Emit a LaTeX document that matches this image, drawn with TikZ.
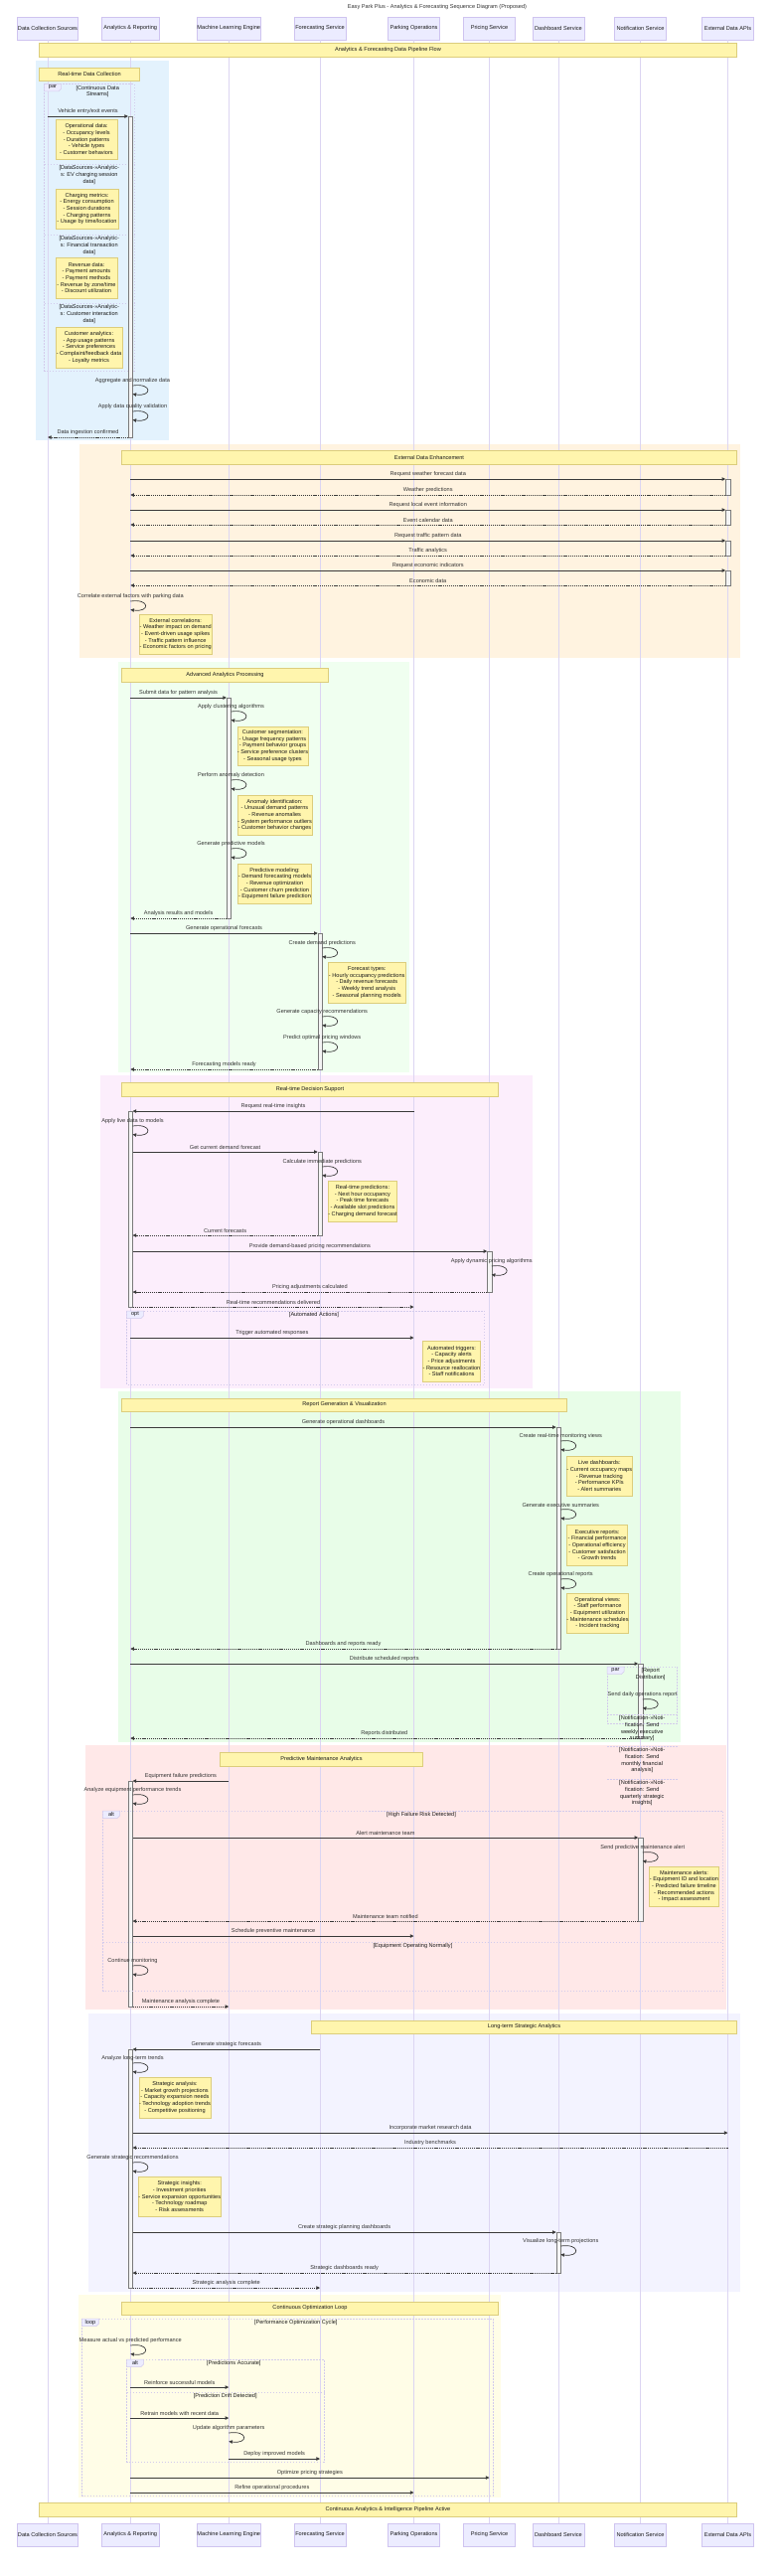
\documentclass[tikz,border=0pt]{standalone}
\usepackage{fontspec}
\setmainfont{Liberation Sans}
\usetikzlibrary{arrows.meta,calc}

\definecolor{actorfill}{HTML}{ECECFF}
\definecolor{actorline}{HTML}{CFC4F0}
\definecolor{lifecol}{HTML}{DCD5F2}
\definecolor{msgline}{HTML}{3A3A3A}
\definecolor{msgtext}{HTML}{333333}
\definecolor{notefill}{HTML}{FFF5AD}
\definecolor{noteline}{HTML}{DCCD7C}
\definecolor{notetext}{HTML}{1A1A1A}
\definecolor{actfill}{HTML}{F4F4F4}
\definecolor{actline}{HTML}{7A7A7A}
\definecolor{frameline}{HTML}{D3CBEC}
\definecolor{bgblue}{HTML}{E3F2FD}
\definecolor{bgpeach}{HTML}{FFF3E0}
\definecolor{bggreen}{HTML}{F0FFF0}
\definecolor{bgpink}{HTML}{FCEEFC}
\definecolor{bgmint}{HTML}{E8FDE8}
\definecolor{bgred}{HTML}{FFE8E8}
\definecolor{bglav}{HTML}{F3F3FF}
\definecolor{bgcream}{HTML}{FFFDE7}

\newcommand{\sqfont}{\fontsize{5.6}{6.7}\selectfont}

% message: [style]{from}{dx}{to}{dx}{y}{label}
\newcommand{\seqmsg}[7][msg]{%
  \draw[#1] ($(#2 |- 0,#6)+(#3,0)$) -- node[msglabel]{#7} ($(#4 |- 0,#6)+(#5,0)$);}
% self message: {lifeline}{dx}{y}{label}
\newcommand{\selfmsg}[4]{%
  \draw[msg] ($(#1 |- 0,#3)+(#2,0)$) node[msglabel]{#4}
    .. controls +(20,-3) and +(20,3) .. +(0,8.5);}
% activation: {lifeline}{y0}{y1}
\newcommand{\seqact}[3]{%
  \draw[actbox] ($(#1 |- 0,#2)+(-2.25,0)$) rectangle ($(#1 |- 0,#3)+(2.25,0)$);}
% note: {name}{x0}{y0}{x1}{y1}{text}
\newcommand{\seqnote}[6]{%
  \node[note, minimum width={(#4)-(#2)}, minimum height={(#5)-(#3)}] (#1)
    at ({((#2)+(#4))/2},{((#3)+(#5))/2}) {#6};}
% frame: {x0}{y0}{x1}{y1}{tag}{condition}
\newcommand{\seqframe}[6]{%
  \draw[frame] (#1,#2) rectangle (#3,#4);
  \draw[tagbox] (#1,#2) -- ++(17,0) -- ++(0,5) -- ++(-2.5,2.5) -- (#1,{#2+7.5}) -- cycle;
  \node[cond, anchor=center] at ({#1+8.5},{#2+3.7}) {#5};
  \node[cond] at ({(#1+17+#3)/2},{#2+1.5}) {#6};}
% separator: {x0}{x1}{y}{condition}
\newcommand{\seqsep}[4]{%
  \draw[frame] (#1,#3) -- (#2,#3);
  \node[cond] at ({(#1+#2)/2},{#3+1.5}) {#4};}

\begin{document}
\begin{tikzpicture}[
        x=1pt, y=-1pt,
        every node/.append style={font=\sqfont},
        actor/.style={draw=actorline, fill=actorfill, line width=0.5pt, minimum height=23pt, inner sep=0pt, text=notetext},
        lifeline/.style={draw=lifecol, line width=0.6pt},
        msg/.style={draw=msgline, line width=0.7pt, -{Triangle[length=3.6pt,width=3.4pt]}},
        reply/.style={msg, dash pattern=on 1.2pt off 0.9pt},
        msglabel/.style={above=2.3pt, inner sep=0pt, text=msgtext},
        actbox/.style={draw=actline, fill=actfill, line width=0.5pt},
        note/.style={draw=noteline, fill=notefill, line width=0.5pt, inner sep=0pt, align=center, text=notetext},
        frame/.style={draw=frameline, line width=0.6pt, dash pattern=on 1.5pt off 1.5pt},
        tagbox/.style={draw=frameline, fill=actorfill, line width=0.5pt},
        cond/.style={inner sep=0pt, align=center, anchor=north, text=notetext}
    ]
    \path[use as bounding box, fill=white] (0,0) rectangle (784,2592);

    % section backgrounds
    \fill[bgblue]  (36,61)    rectangle (170,443);
    \fill[bgpeach] (80,447)   rectangle (745,662);
    \fill[bggreen] (119,666)  rectangle (411.5,1079);
    \fill[bgpink]  (101,1082) rectangle (536,1397);
    \fill[bgmint]  (119,1400) rectangle (685,1753);
    \fill[bgred]   (86,1756)  rectangle (731,2022);
    \fill[bglav]   (89,2026)  rectangle (745,2306);
    \fill[bgcream] (79,2309)  rectangle (504,2513);

    % participants
    \node[text=msgtext] (title) at (440,7) {Easy Park Plus - Analytics \& Forecasting Sequence Diagram (Proposed)};
    \foreach \id/\cx/\bw/\lbl in {src/48/61/{Data Collection Sources},
            ana/131.25/57.5/{Analytics \& Reporting}, ml/230.25/64.5/{Machine Learning Engine},
            fc/322/52/{Forecasting Service}, park/416.5/52/{Parking Operations},
            pri/492.5/52/{Pricing Service}, dash/562/52/{Dashboard Service},
            notif/644.5/52/{Notification Service}, ext/732.5/52/{External Data APIs}} {
        \node[actor, minimum width=\bw] (\id) at (\cx,28.5) {\lbl};
        \node[actor, minimum width=\bw] (\id-end) at (\cx,2550.5) {\lbl};
    }
    \foreach \id in {src,ana,ml,fc,park,pri,dash,notif,ext}
        \draw[lifeline] (\id) -- (\id-end);

    \seqnote{n-flow}{39.5}{43}{741.5}{57}{Analytics \& Forecasting Data Pipeline Flow}

    % real-time data collection
    \seqnote{n-rtdc}{39.5}{68}{140.5}{81}{Real-time Data Collection}
    \seqframe{44.5}{84.3}{135}{373}{par}{[Continuous Data\\Streams]}
    \seqsep{44.5}{135}{165}{[DataSources->>Analytic-\\s: EV charging session\\data]}
    \seqsep{44.5}{135}{236}{[DataSources->>Analytic-\\s: Financial transaction\\data]}
    \seqsep{44.5}{135}{305}{[DataSources->>Analytic-\\s: Customer interaction\\data]}
    \seqact{ana}{117}{440}
    \seqmsg{src}{0}{ana}{-2.25}{117}{Vehicle entry/exit events}
    \seqnote{n-ops}{56}{120}{118}{160}{Operational data:\\- Occupancy levels\\- Duration patterns\\- Vehicle types\\- Customer behaviors}
    \seqnote{n-chg}{56}{190}{119}{230}{Charging metrics:\\- Energy consumption\\- Session durations\\- Charging patterns\\- Usage by time/location}
    \seqnote{n-rev}{56}{259}{118}{300}{Revenue data:\\- Payment amounts\\- Payment methods\\- Revenue by zone/time\\- Discount utilization}
    \seqnote{n-cust}{56}{329}{123}{370}{Customer analytics:\\- App usage patterns\\- Service preferences\\- Complaint/feedback data\\- Loyalty metrics}
    \selfmsg{ana}{2.25}{388}{Aggregate and normalize data}
    \selfmsg{ana}{2.25}{414}{Apply data quality validation}
    \seqmsg[reply]{ana}{-2.25}{src}{0}{440}{Data ingestion confirmed}

    % external data enhancement
    \seqnote{n-ext}{122.5}{453}{741.5}{467}{External Data Enhancement}
    \seqact{ext}{482}{498}
    \seqact{ext}{513}{528}
    \seqact{ext}{544}{559}
    \seqact{ext}{574}{589}
    \seqmsg{ana}{0}{ext}{-2.25}{482}{Request weather forecast data}
    \seqmsg[reply]{ext}{-2.25}{ana}{0}{498}{Weather predictions}
    \seqmsg{ana}{0}{ext}{-2.25}{513}{Request local event information}
    \seqmsg[reply]{ext}{-2.25}{ana}{0}{528}{Event calendar data}
    \seqmsg{ana}{0}{ext}{-2.25}{544}{Request traffic pattern data}
    \seqmsg[reply]{ext}{-2.25}{ana}{0}{559}{Traffic analytics}
    \seqmsg{ana}{0}{ext}{-2.25}{574}{Request economic indicators}
    \seqmsg[reply]{ext}{-2.25}{ana}{0}{589}{Economic data}
    \selfmsg{ana}{0}{605}{Correlate external factors with parking data}
    \seqnote{n-corr}{140}{618}{213.5}{658}{External correlations:\\- Weather impact on demand\\- Event-driven usage spikes\\- Traffic pattern influence\\- Economic factors on pricing}

    % advanced analytics processing
    \seqnote{n-adv}{122.5}{672}{330.5}{686}{Advanced Analytics Processing}
    \seqact{ml}{702}{924}
    \seqmsg{ana}{0}{ml}{-2.25}{702}{Submit data for pattern analysis}
    \selfmsg{ml}{2.25}{716}{Apply clustering algorithms}
    \seqnote{n-seg}{239.5}{731}{309.5}{770}{Customer segmentation:\\- Usage frequency patterns\\- Payment behavior groups\\- Service preference clusters\\- Seasonal usage types}
    \selfmsg{ml}{2.25}{785}{Perform anomaly detection}
    \seqnote{n-anom}{239.5}{800}{313.5}{840}{Anomaly identification:\\- Unusual demand patterns\\- Revenue anomalies\\- System performance outliers\\- Customer behavior changes}
    \selfmsg{ml}{2.25}{854}{Generate predictive models}
    \seqnote{n-pred}{239.5}{869}{313.5}{909}{Predictive modeling:\\- Demand forecasting models\\- Revenue optimization\\- Customer churn prediction\\- Equipment failure prediction}
    \seqmsg[reply]{ml}{-2.25}{ana}{0}{924}{Analysis results and models}
    \seqact{fc}{939}{1076}
    \seqmsg{ana}{0}{fc}{-2.25}{939}{Generate operational forecasts}
    \selfmsg{fc}{2.25}{954}{Create demand predictions}
    \seqnote{n-fct}{330.5}{968}{408}{1009}{Forecast types:\\- Hourly occupancy predictions\\- Daily revenue forecasts\\- Weekly trend analysis\\- Seasonal planning models}
    \selfmsg{fc}{2.25}{1023}{Generate capacity recommendations}
    \selfmsg{fc}{2.25}{1049}{Predict optimal pricing windows}
    \seqmsg[reply]{fc}{-2.25}{ana}{0}{1076}{Forecasting models ready}

    % real-time decision support
    \seqnote{n-rtds}{122.5}{1089}{501.5}{1103}{Real-time Decision Support}
    \seqact{ana}{1118}{1315}
    \seqact{fc}{1159}{1243}
    \seqact{pri}{1259}{1300}
    \seqmsg{park}{0}{ana}{2.25}{1118}{Request real-time insights}
    \selfmsg{ana}{2.25}{1133}{Apply live data to models}
    \seqmsg{ana}{2.25}{fc}{-2.25}{1159}{Get current demand forecast}
    \selfmsg{fc}{2.25}{1174}{Calculate immediate predictions}
    \seqnote{n-rtp}{330.5}{1188}{399.5}{1229}{Real-time predictions:\\- Next hour occupancy\\- Peak time forecasts\\- Available slot predictions\\- Charging demand forecast}
    \seqmsg[reply]{fc}{-2.25}{ana}{2.25}{1243}{Current forecasts}
    \seqmsg{ana}{2.25}{pri}{-2.25}{1259}{Provide demand-based pricing recommendations}
    \selfmsg{pri}{2.25}{1274}{Apply dynamic pricing algorithms}
    \seqmsg[reply]{pri}{-2.25}{ana}{2.25}{1300}{Pricing adjustments calculated}
    \seqmsg[reply]{ana}{2.25}{park}{0}{1315}{Real-time recommendations delivered}
    \seqframe{127.5}{1319}{487.5}{1393}{opt}{[Automated Actions]}
    \seqmsg{ana}{0}{park}{0}{1346}{Trigger automated responses}
    \seqnote{n-trig}{425.5}{1349}{483.5}{1390}{Automated triggers:\\- Capacity alerts\\- Price adjustments\\- Resource reallocation\\- Staff notifications}

    % report generation
    \seqnote{n-rep}{122.5}{1407}{570.5}{1420}{Report Generation \& Visualization}
    \seqact{dash}{1436}{1659}
    \seqmsg{ana}{0}{dash}{-2.25}{1436}{Generate operational dashboards}
    \selfmsg{dash}{2.25}{1450}{Create real-time monitoring views}
    \seqnote{n-live}{570.5}{1465}{636}{1505}{Live dashboards:\\- Current occupancy maps\\- Revenue tracking\\- Performance KPIs\\- Alert summaries}
    \selfmsg{dash}{2.25}{1519}{Generate executive summaries}
    \seqnote{n-exec}{570.5}{1534}{631.5}{1575}{Executive reports:\\- Financial performance\\- Operational efficiency\\- Customer satisfaction\\- Growth trends}
    \selfmsg{dash}{2.25}{1589}{Create operational reports}
    \seqnote{n-opv}{570.5}{1603}{632.5}{1643}{Operational views:\\- Staff performance\\- Equipment utilization\\- Maintenance schedules\\- Incident tracking}
    \seqmsg[reply]{dash}{-2.25}{ana}{0}{1659}{Dashboards and reports ready}
    \seqact{notif}{1674}{1749}
    \seqmsg{ana}{0}{notif}{-2.25}{1674}{Distribute scheduled reports}
    \seqframe{611}{1677}{681.5}{1734}{par}{[Report\\Distribution]}
    \selfmsg{notif}{2.25}{1710}{Send daily operations report}
    \seqsep{611}{681.5}{1725}{[Notification->>Noti-\\fication: Send\\weekly executive\\summary]}
    \seqsep{611}{681.5}{1757}{[Notification->>Noti-\\fication: Send\\monthly financial\\analysis]}
    \seqsep{611}{681.5}{1790}{[Notification->>Noti-\\fication: Send\\quarterly strategic\\insights]}
    \seqmsg[reply]{notif}{-2.25}{ana}{0}{1749}{Reports distributed}

    % predictive maintenance
    \seqnote{n-maint}{221.5}{1763}{425.5}{1777}{Predictive Maintenance Analytics}
    \seqact{ana}{1792}{2019}
    \seqmsg{ml}{0}{ana}{2.25}{1792}{Equipment failure predictions}
    \selfmsg{ana}{2.25}{1806}{Analyze equipment performance trends}
    \seqframe{103.5}{1822}{727.5}{2003}{alt}{[High Failure Risk Detected]}
    \seqact{notif}{1849}{1933}
    \seqmsg{ana}{2.25}{notif}{-2.25}{1849}{Alert maintenance team}
    \selfmsg{notif}{2.25}{1864}{Send predictive maintenance alert}
    \seqnote{n-alert}{653.5}{1878}{723.5}{1918}{Maintenance alerts:\\- Equipment ID and location\\- Predicted failure timeline\\- Recommended actions\\- Impact assessment}
    \seqmsg[reply]{notif}{-2.25}{ana}{2.25}{1933}{Maintenance team notified}
    \seqmsg{ana}{2.25}{park}{0}{1948}{Schedule preventive maintenance}
    \seqsep{103.5}{727.5}{1954}{[Equipment Operating Normally]}
    \selfmsg{ana}{2.25}{1978}{Continue monitoring}
    \seqmsg[reply]{ana}{2.25}{ml}{0}{2019}{Maintenance analysis complete}

    % long-term strategic analytics
    \seqnote{n-strat}{313.5}{2033}{741.5}{2046}{Long-term Strategic Analytics}
    \seqact{ana}{2062}{2302}
    \seqmsg{fc}{0}{ana}{2.25}{2062}{Generate strategic forecasts}
    \selfmsg{ana}{2.25}{2076}{Analyze long-term trends}
    \seqnote{n-sa}{140}{2090}{212}{2131}{Strategic analysis:\\- Market growth projections\\- Capacity expansion needs\\- Technology adoption trends\\- Competitive positioning}
    \seqmsg{ana}{2.25}{ext}{0}{2146}{Incorporate market research data}
    \seqmsg[reply]{ext}{0}{ana}{2.25}{2161}{Industry benchmarks}
    \selfmsg{ana}{2.25}{2176}{Generate strategic recommendations}
    \seqnote{n-si}{140}{2190}{221.5}{2230}{Strategic insights:\\- Investment priorities\\- Service expansion opportunities\\- Technology roadmap\\- Risk assessments}
    \seqact{dash}{2246}{2287}
    \seqmsg{ana}{2.25}{dash}{-2.25}{2246}{Create strategic planning dashboards}
    \selfmsg{dash}{2.25}{2260}{Visualize long-term projections}
    \seqmsg[reply]{dash}{-2.25}{ana}{2.25}{2287}{Strategic dashboards ready}
    \seqmsg[reply]{ana}{2.25}{fc}{0}{2302}{Strategic analysis complete}

    % continuous optimization
    \seqnote{n-opt}{122.5}{2316}{501.5}{2329}{Continuous Optimization Loop}
    \seqframe{82.5}{2333}{496}{2511}{loop}{[Performance Optimization Cycle]}
    \selfmsg{ana}{0}{2360}{Measure actual vs predicted performance}
    \seqframe{127.5}{2374}{326}{2477}{alt}{[Predictions Accurate]}
    \seqmsg{ana}{0}{ml}{0}{2402}{Reinforce successful models}
    \seqsep{127.5}{326}{2407}{[Prediction Drift Detected]}
    \seqmsg{ana}{0}{ml}{0}{2433}{Retrain models with recent data}
    \selfmsg{ml}{0}{2448}{Update algorithm parameters}
    \seqmsg{ml}{0}{fc}{0}{2474}{Deploy improved models}
    \seqmsg{ana}{0}{pri}{0}{2493}{Optimize pricing strategies}
    \seqmsg{ana}{0}{park}{0}{2508}{Refine operational procedures}

    \seqnote{n-active}{39.5}{2518}{741.5}{2532}{Continuous Analytics \& Intelligence Pipeline Active}
\end{tikzpicture}
\end{document}
